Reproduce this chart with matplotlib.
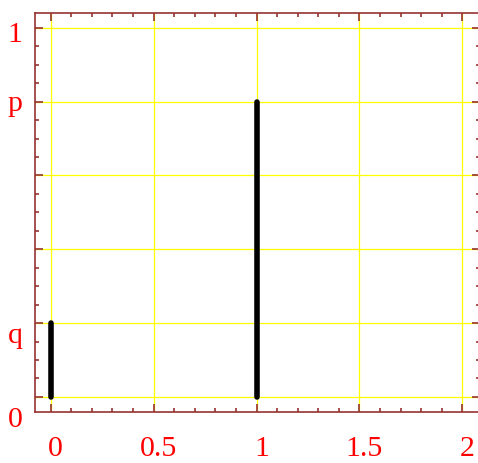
import matplotlib.pyplot as plt
import matplotlib.transforms as mtransforms
from matplotlib.ticker import MultipleLocator

# Bernoulli pmf: P(X=0)=q, P(X=1)=p
outcomes = [0, 1]
probs = [0.2, 0.8]
xticks = [0, 0.5, 1, 1.5, 2]
xtick_labels = ["0", "0.5", "1", "1.5", "2"]
yticks = [0, 0.2, 0.4, 0.6, 0.8, 1]
ytick_labels = ["0", "q", "", "", "p", "1"]

frame_col = "#963232"
label_col = "#ff0000"

fig = plt.figure(figsize=(4.78, 4.63), dpi=100)
ax = fig.add_axes([35 / 478, 51.3 / 463, 444.5 / 478, 398.7 / 463])

ax.vlines(outcomes, 0, probs, colors="black", linewidth=4.0, capstyle="round", zorder=3)

ax.set_xlim(-0.076, 2.083)
ax.set_ylim(-0.04, 1.04)
ax.set_xticks(xticks)
ax.set_xticklabels(xtick_labels)
ax.set_yticks(yticks)
ax.set_yticklabels(ytick_labels)
ax.xaxis.set_minor_locator(MultipleLocator(0.1))
ax.yaxis.set_minor_locator(MultipleLocator(0.05))

ax.grid(True, which="major", color="#ffff00", linewidth=0.9, zorder=1)
ax.set_axisbelow(True)

for s in ax.spines.values():
    s.set_color(frame_col)
    s.set_linewidth(1.2)

ax.tick_params(which="both", direction="in", top=True, right=True, color=frame_col, width=1.2)
ax.tick_params(which="major", length=5.5)
ax.tick_params(which="minor", length=3.2)
ax.tick_params(axis="x", pad=17.5, labelsize=21.5, labelcolor=label_col)
ax.tick_params(axis="y", pad=9, labelsize=21.5, labelcolor=label_col)

for lab in ax.get_xticklabels() + ax.get_yticklabels():
    lab.set_fontfamily("Liberation Serif")

# nudge labels like the original layout (pixels at dpi 100)
for lab in ax.get_xticklabels():
    lab.set_transform(lab.get_transform() + mtransforms.ScaledTranslation(0.05, 0, fig.dpi_scale_trans))
y_shift = {"0": -0.2, "q": -0.1, "p": 0.01, "1": -0.04}
for lab in ax.get_yticklabels():
    dy = y_shift.get(lab.get_text(), 0)
    lab.set_transform(lab.get_transform() + mtransforms.ScaledTranslation(0, dy, fig.dpi_scale_trans))

fig.savefig("out.png", dpi=100)
